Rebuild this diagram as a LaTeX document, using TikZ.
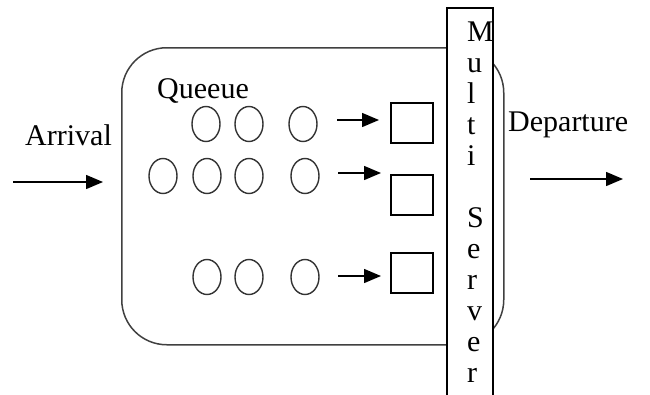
\documentclass[tikz,border=0pt]{standalone}
\usepackage{fontspec}
\setmainfont{Liberation Serif}
\usetikzlibrary{shapes.geometric,arrows.meta}
\begin{document}
\begin{tikzpicture}[x=1pt,y=-1pt,
  cust/.style={draw=black!80, line width=1.4pt, ellipse, minimum width=28pt, minimum height=35pt, inner sep=0pt},
  srvbox/.style={draw, line width=1.4pt, minimum width=42pt, minimum height=40pt, inner sep=0pt},
  arr/.style={-{Triangle[length=17pt,width=14pt]}, line width=1.5pt},
  lbl/.style={font=\fontsize{30}{31}\selectfont, inner sep=0pt}]
\clip (0,0) rectangle (650,394);
\fill[white] (0,0) rectangle (650,394);
% queue system box
\node[draw=black!75, line width=1.5pt, rounded corners=45pt, minimum width=382pt, minimum height=297pt, anchor=north west, inner sep=0pt] (sys) at (121,47) {};
% server bar
\node[draw, fill=white, line width=1.5pt, minimum width=46pt, minimum height=400pt, anchor=north west, inner sep=0pt] (bar) at (446,7) {};
\node[lbl, align=left, anchor=north west] (bartext) at (467,22) {M\\u\\l\\t\\i\\\mbox{}\\S\\e\\r\\v\\e\\r};
% labels
\node[lbl, anchor=base west] (queue) at (157,98) {Queeue};
\node[lbl, anchor=base west] (arrival) at (25,145) {Arrival};
\node[lbl, anchor=base west] (departure) at (508,131) {Departure};
% customers row 1
\node[cust] (c11) at (206,124) {};
\node[cust] (c12) at (249,124) {};
\node[cust] (c13) at (303,124) {};
% row 2
\node[cust] (c21) at (163,176) {};
\node[cust] (c22) at (207,176) {};
\node[cust] (c23) at (249,176) {};
\node[cust] (c24) at (305,176) {};
% row 3
\node[cust] (c31) at (207,277) {};
\node[cust] (c32) at (249,277) {};
\node[cust] (c33) at (305,277) {};
% servers
\node[srvbox] (s1) at (412,123) {};
\node[srvbox] (s2) at (412,195) {};
\node[srvbox] (s3) at (412,273) {};
% arrows
\coordinate (a1s) at (337,120); \coordinate (a1e) at (379,120);
\coordinate (a2s) at (338,173); \coordinate (a2e) at (381,173);
\coordinate (a3s) at (338,276); \coordinate (a3e) at (381,276);
\draw[arr] (a1s) -- (a1e);
\draw[arr] (a2s) -- (a2e);
\draw[arr] (a3s) -- (a3e);
\coordinate (ins) at (13,182); \coordinate (ine) at (103,182);
\coordinate (outs) at (530,179); \coordinate (oute) at (623,179);
\draw[arr] (ins) -- (ine);
\draw[arr] (outs) -- (oute);
\end{tikzpicture}
\end{document}
